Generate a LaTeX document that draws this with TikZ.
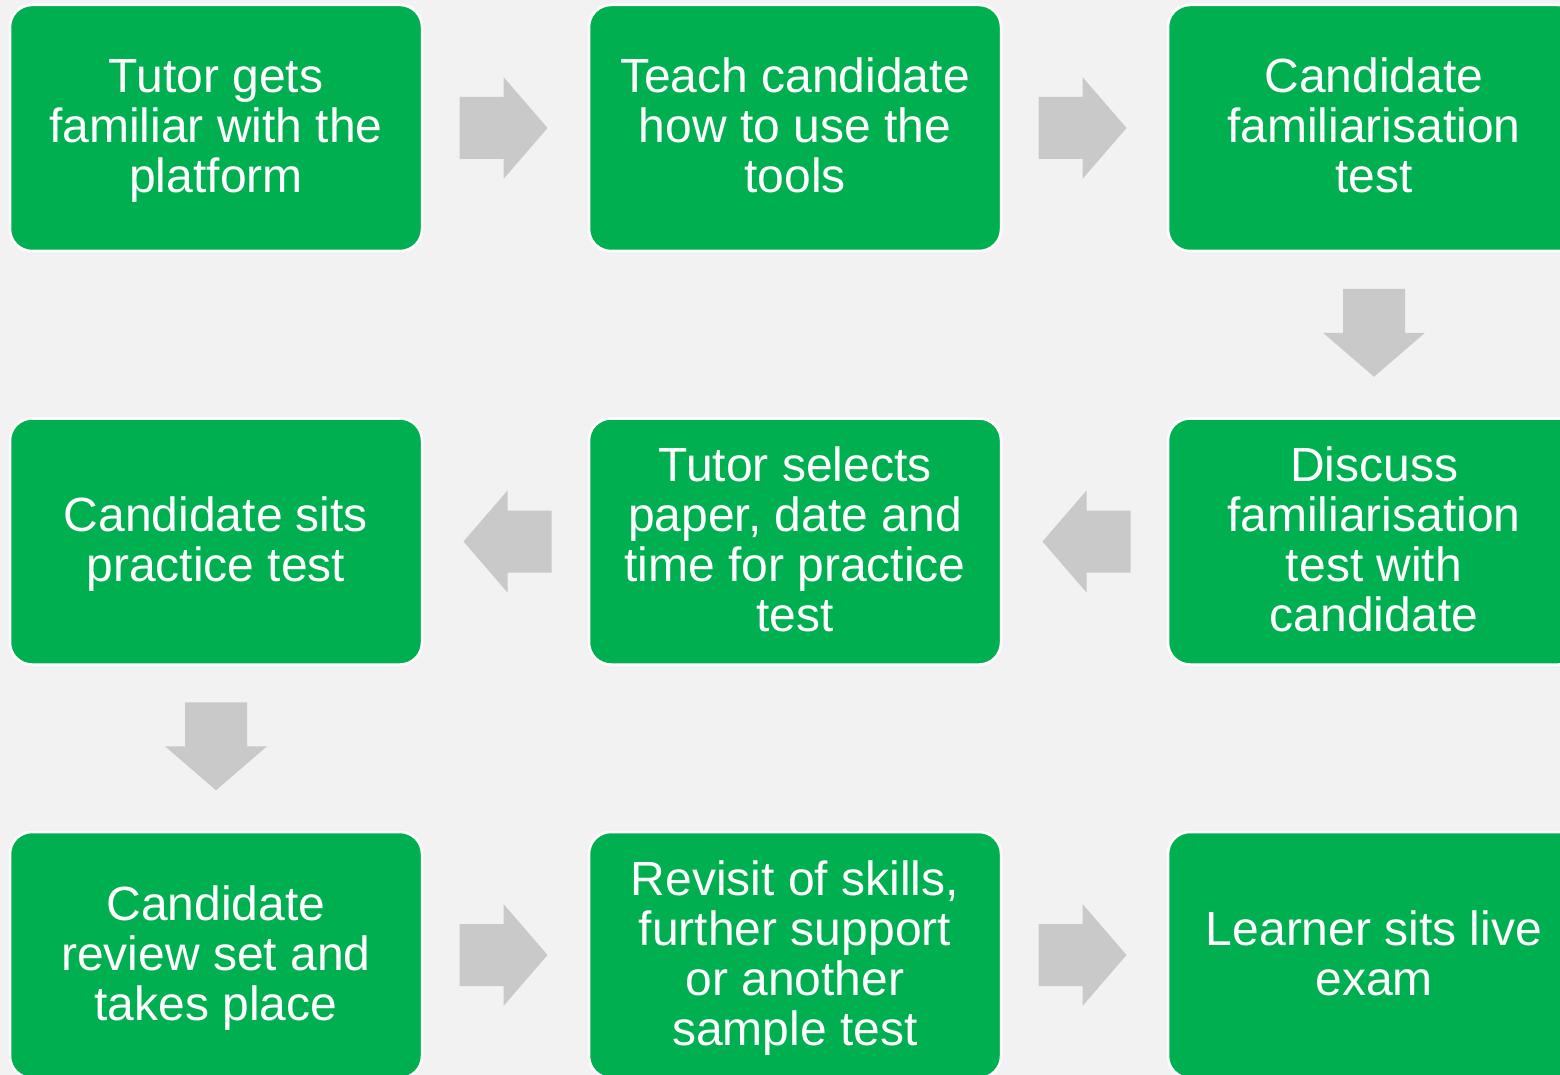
\documentclass[tikz,border=0pt]{standalone}
\usepackage{fontspec}
\setmainfont{Liberation Sans}
\usetikzlibrary{calc}
\definecolor{bggrey}{HTML}{F2F2F2}
\definecolor{boxgreen}{HTML}{00B050}
\definecolor{arrowgrey}{HTML}{C9C9C9}
\newcommand{\lstrut}{\rule[-10pt]{0pt}{50pt}}
\tikzset{
  stepbox/.style={rectangle, rounded corners=22pt, fill=boxgreen, draw=white, line width=2.5pt,
    minimum width=412pt, minimum height=246pt, inner sep=0pt, align=center, text=white,
    font=\fontsize{48}{50}\selectfont},
  blockarrow/.style={fill=arrowgrey}
}
\begin{document}
\begin{tikzpicture}[x=1pt,y=-1pt]
\fill[bggrey] (0,0) rectangle (1560,1075);
\useasboundingbox (0,0) rectangle (1560,1075);
\clip (0,0) rectangle (1560,1075);
% row 1
\node[stepbox] (a) at (216,128) {\lstrut Tutor gets\\\lstrut familiar with the\\\lstrut platform};
\node[stepbox] (b) at (795,128) {\lstrut Teach candidate\\\lstrut how to use the\\\lstrut tools};
\node[stepbox] (c) at (1374,128) {\lstrut Candidate\\\lstrut familiarisation\\\lstrut test};
% row 2
\node[stepbox] (f) at (216,541.5) {\lstrut Candidate sits\\\lstrut practice test};
\node[stepbox] (e) at (795,541.5) {\lstrut Tutor selects\\\lstrut paper, date and\\\lstrut time for practice\\\lstrut test};
\node[stepbox] (d) at (1374,541.5) {\lstrut Discuss\\\lstrut familiarisation\\\lstrut test with\\\lstrut candidate};
% row 3
\node[stepbox] (g) at (216,955) {\lstrut Candidate\\\lstrut review set and\\\lstrut takes place};
\node[stepbox] (h) at (795,955) {\lstrut Revisit of skills,\\\lstrut further support\\\lstrut or another\\\lstrut sample test};
\node[stepbox] (i) at (1374,955) {\lstrut Learner sits live\\\lstrut exam};
% arrow anchor points
\coordinate (ab) at ($(a.east)!0.5!(b.west)$);
\coordinate (bc) at ($(b.east)!0.5!(c.west)$);
\coordinate (cd) at ($(c.south)!0.5!(d.north)$);
\coordinate (de) at ($(d.west)!0.5!(e.east)$);
\coordinate (ef) at ($(e.west)!0.5!(f.east)$);
\coordinate (fg) at ($(f.south)!0.5!(g.north)$);
\coordinate (gh) at ($(g.east)!0.5!(h.west)$);
\coordinate (hi) at ($(h.east)!0.5!(i.west)$);
% right arrows
\foreach \m in {ab,bc,gh,hi}{
  \fill[blockarrow,shift={(\m)}] (-46,-31) -- (-2,-31) -- (-2,-51) -- (42,0) -- (-2,51) -- (-2,31) -- (-46,31) -- cycle;
}
% left arrows
\foreach \m in {de,ef}{
  \fill[blockarrow,shift={(\m)}] (46,-31) -- (2,-31) -- (2,-51) -- (-42,0) -- (2,51) -- (2,31) -- (46,31) -- cycle;
}
% down arrows
\foreach \m in {cd,fg}{
  \fill[blockarrow,shift={(\m)}] (-31,-46) -- (-31,-2) -- (-51,-2) -- (0,42) -- (51,-2) -- (31,-2) -- (31,-46) -- cycle;
}
\end{tikzpicture}
\end{document}
